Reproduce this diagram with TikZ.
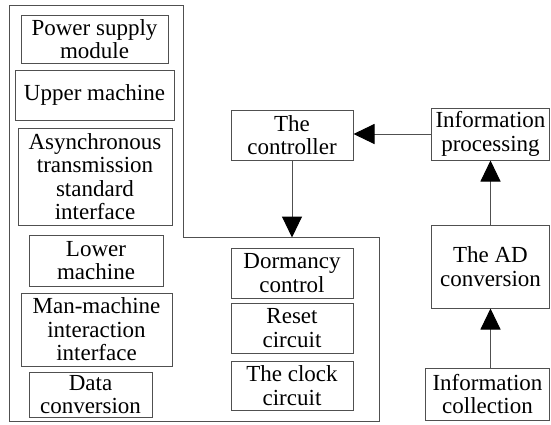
\documentclass[tikz,border=0pt]{standalone}
\usepackage{fontspec}
\newfontfamily\labelfont{Liberation Serif}
\usetikzlibrary{arrows.meta}
\definecolor{edge}{HTML}{505050}
\tikzset{
  box/.style={draw=edge, line width=1pt, rectangle, inner sep=0pt, align=center,
    font=\labelfont\fontsize{23}{23.5}\selectfont, text=black},
  flow/.style={draw=edge, line width=1pt, -{Triangle[length=21pt,width=20pt,fill=black,color=black]}},
}
\begin{document}
\begin{tikzpicture}[x=1pt,y=-1pt]
\useasboundingbox (0,0) rectangle (551,424);
% outer housing of the main board
\draw[edge, line width=1pt] (9,5) -- (183.5,5) -- (183.5,237.5) -- (379.5,237.5)
  -- (379.5,421) -- (9,421) -- cycle;
\coordinate (notch) at (292,237.5);
% left column modules
\node[box, minimum width=147pt, minimum height=48pt] (psm) at (94.5,39) {Power supply\\module};
\node[box, minimum width=159pt, minimum height=50pt] (upm) at (94.5,95) {Upper machine};
\node[box, minimum width=154pt, minimum height=97pt] (asy) at (95,176.5) {Asynchronous\\transmission\\standard\\interface};
\node[box, minimum width=134pt, minimum height=51pt] (low) at (96,260.5) {Lower\\machine};
\node[box, minimum width=151pt, minimum height=73pt] (man) at (96.5,329.5) {Man-machine\\interaction\\interface};
\node[box, minimum width=123pt, minimum height=45pt] (dat) at (90.5,394.5) {Data\\conversion};
% controller and its circuits
\node[box, minimum width=122pt, minimum height=50pt] (ctl) at (292,135) {The\\controller};
\node[box, minimum width=122pt, minimum height=50pt] (dor) at (292,273) {Dormancy\\control};
\node[box, minimum width=122pt, minimum height=50pt] (rst) at (292,328) {Reset\\circuit};
\node[box, minimum width=122pt, minimum height=49pt] (clk) at (292,385.5) {The clock\\circuit};
% acquisition chain
\node[box, minimum width=118.5pt, minimum height=52pt] (inp) at (490.5,134) {Information\\processing};
\node[box, minimum width=118.5pt, minimum height=83pt] (adc) at (490.5,266.5) {The AD\\conversion};
\node[box, minimum width=124.5pt, minimum height=52pt] (inc) at (487.5,394) {Information\\collection};
% signal flow
\draw[flow] (ctl.south) -- (notch);
\draw[flow] (inp.west) -- (inp.west -| ctl.east);
\draw[flow] (adc.north) -- (inp.south);
\draw[flow] (inc.north -| adc.south) -- (adc.south);
\end{tikzpicture}
\end{document}
